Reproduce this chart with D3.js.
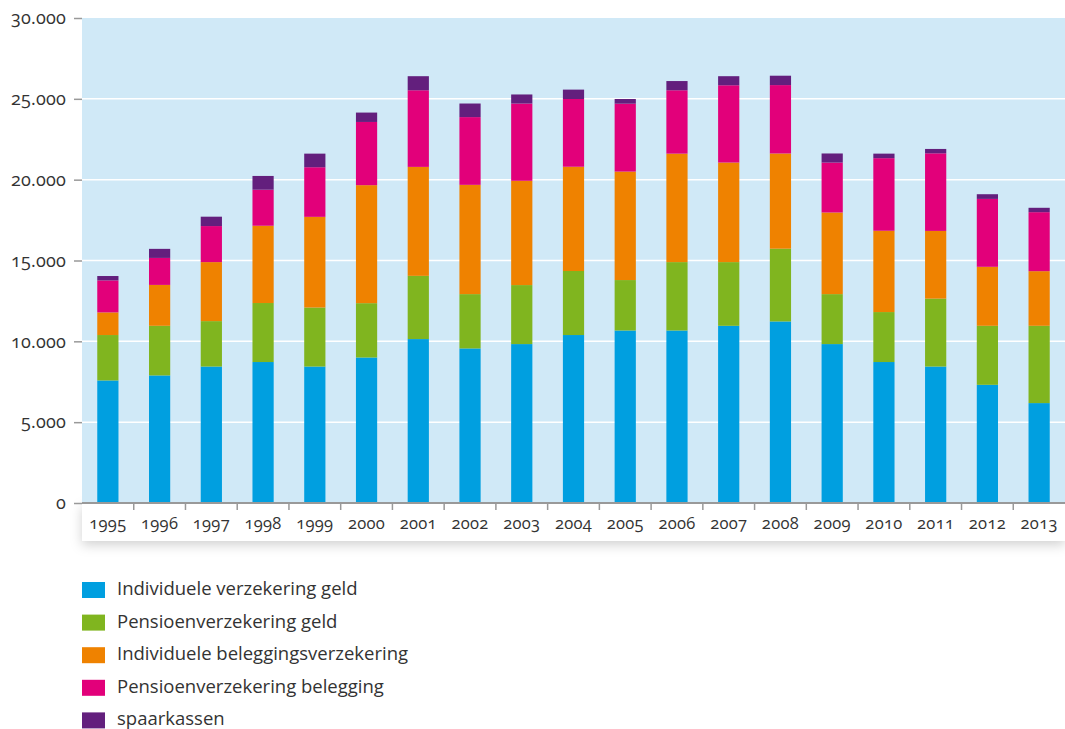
<!DOCTYPE html>
<html>
<head>
<meta charset="utf-8">
<script src="https://cdn.jsdelivr.net/npm/d3@7"></script>
<style>
  body { margin: 0; background: #fff; }
  text { font-family: "Open Sans", "Noto Sans", sans-serif; fill: #333; font-variant-numeric: oldstyle-nums; }
</style>
</head>
<body>
<div id="chart"></div>
<script>
const years = ["1995", "1996", "1997", "1998", "1999", "2000", "2001", "2002", "2003", "2004",
  "2005", "2006", "2007", "2008", "2009", "2010", "2011", "2012", "2013"];

const seriesNames = [
  "Individuele verzekering geld",
  "Pensioenverzekering geld",
  "Individuele beleggingsverzekering",
  "Pensioenverzekering belegging",
  "spaarkassen"
];

const indGeld = [7580, 7890, 8440, 8720, 8440, 9000, 10140, 9560, 9830, 10390, 10670, 10670, 10960, 11230, 9830, 8720, 8440, 7310, 6180];
const pensGeld = [2810, 3070, 2810, 3650, 3650, 3360, 3910, 3360, 3650, 3960, 3120, 4230, 3940, 4500, 3090, 3090, 4200, 3650, 4780];
const indBel = [1400, 2530, 3650, 4780, 5610, 7300, 6740, 6760, 6450, 6450, 6710, 6710, 6160, 5890, 5050, 5030, 4190, 3650, 3380];
const pensBel = [1980, 1670, 2230, 2230, 3070, 3910, 4740, 4190, 4780, 4190, 4200, 3920, 4780, 4230, 3090, 4490, 4800, 4200, 3650];
const spaarkassen = [270, 560, 580, 850, 840, 580, 870, 840, 560, 580, 290, 570, 560, 580, 560, 280, 270, 290, 270];

const yTicks = [0, 5000, 10000, 15000, 20000, 25000, 30000];
const colors = ["#009fe0", "#80b51f", "#ef8200", "#e2007a", "#631f7d"];

const allSeries = [indGeld, pensGeld, indBel, pensBel, spaarkassen];
const keys = seriesNames;
const table = years.map((yr, i) => {
  const row = { year: yr };
  keys.forEach((k, j) => { row[k] = allSeries[j][i]; });
  return row;
});

const W = 1065, H = 729;
const plot = { left: 82, right: 1065, top: 18, bottom: 503 };

const svg = d3.select("#chart").append("svg")
  .attr("width", W).attr("height", H);

const defs = svg.append("defs");
const shadow = defs.append("filter").attr("id", "shadow")
  .attr("x", "-5%").attr("y", "-50%").attr("width", "110%").attr("height", "250%");
shadow.append("feDropShadow")
  .attr("dx", 0).attr("dy", 4).attr("stdDeviation", 6)
  .attr("flood-color", "#000").attr("flood-opacity", 0.18);

const x = d3.scaleBand()
  .domain(years)
  .range([plot.left, plot.right])
  .paddingInner(0.59)
  .paddingOuter(0.295);

const y = d3.scaleLinear()
  .domain([0, 30000])
  .range([plot.bottom, plot.top]);

// white strip under the axis with a soft shadow
svg.append("rect")
  .attr("x", plot.left).attr("y", plot.bottom)
  .attr("width", plot.right - plot.left).attr("height", 38)
  .attr("fill", "#fff")
  .attr("filter", "url(#shadow)");

// plot background
svg.append("rect")
  .attr("x", plot.left).attr("y", plot.top)
  .attr("width", plot.right - plot.left).attr("height", plot.bottom - plot.top)
  .attr("fill", "#d0e9f7");

// gridlines
svg.append("g")
  .selectAll("line")
  .data(yTicks.filter(d => d > 0 && d < 30000))
  .join("line")
  .attr("x1", plot.left).attr("x2", plot.right)
  .attr("y1", d => y(d)).attr("y2", d => y(d))
  .attr("stroke", "#fff").attr("stroke-width", 1.5);

// stacked bars
const stack = d3.stack().keys(keys);
const stacked = stack(table);

svg.append("g")
  .selectAll("g")
  .data(stacked)
  .join("g")
  .attr("fill", (d, i) => colors[i])
  .selectAll("rect")
  .data(d => d)
  .join("rect")
  .attr("x", d => x(d.data.year))
  .attr("width", x.bandwidth())
  .attr("y", d => y(d[1]))
  .attr("height", d => y(d[0]) - y(d[1]));

// y axis
const yAxis = svg.append("g")
  .attr("transform", `translate(${plot.left},0)`)
  .call(d3.axisLeft(y)
    .tickValues(yTicks)
    .tickSize(8)
    .tickPadding(8)
    .tickFormat(d => d === 0 ? "0" : d3.format(",")(d).replace(/,/g, ".")));
yAxis.select(".domain").remove();
yAxis.selectAll(".tick line").attr("stroke", "#999").attr("stroke-width", 1.5);
yAxis.selectAll(".tick text").attr("font-size", 18).attr("letter-spacing", 0.2).attr("fill", "#333");

// x axis
const xAxis = svg.append("g")
  .attr("transform", `translate(0,${plot.bottom})`)
  .call(d3.axisBottom(x).tickSize(0).tickPadding(14));
xAxis.select(".domain").remove();
xAxis.selectAll(".tick text").attr("font-size", 16.5).attr("letter-spacing", 0.3).attr("fill", "#333");

svg.append("line")
  .attr("x1", plot.left).attr("x2", plot.right)
  .attr("y1", plot.bottom).attr("y2", plot.bottom)
  .attr("stroke", "#999").attr("stroke-width", 2);

const step = x.step();
svg.append("g")
  .selectAll("line")
  .data(years.slice(1))
  .join("line")
  .attr("x1", d => x(d) - (step - x.bandwidth()) / 2)
  .attr("x2", d => x(d) - (step - x.bandwidth()) / 2)
  .attr("y1", plot.bottom).attr("y2", plot.bottom + 7)
  .attr("stroke", "#999").attr("stroke-width", 1.5);

// legend
const legend = svg.append("g")
  .selectAll("g")
  .data(seriesNames)
  .join("g")
  .attr("transform", (d, i) => `translate(82,${582 + i * 32.6})`);

legend.append("rect")
  .attr("width", 23).attr("height", 16)
  .attr("fill", (d, i) => colors[i]);

legend.append("text")
  .attr("x", 35).attr("y", 13)
  .attr("font-size", 18.5)
  .text(d => d);
</script>
</body>
</html>
